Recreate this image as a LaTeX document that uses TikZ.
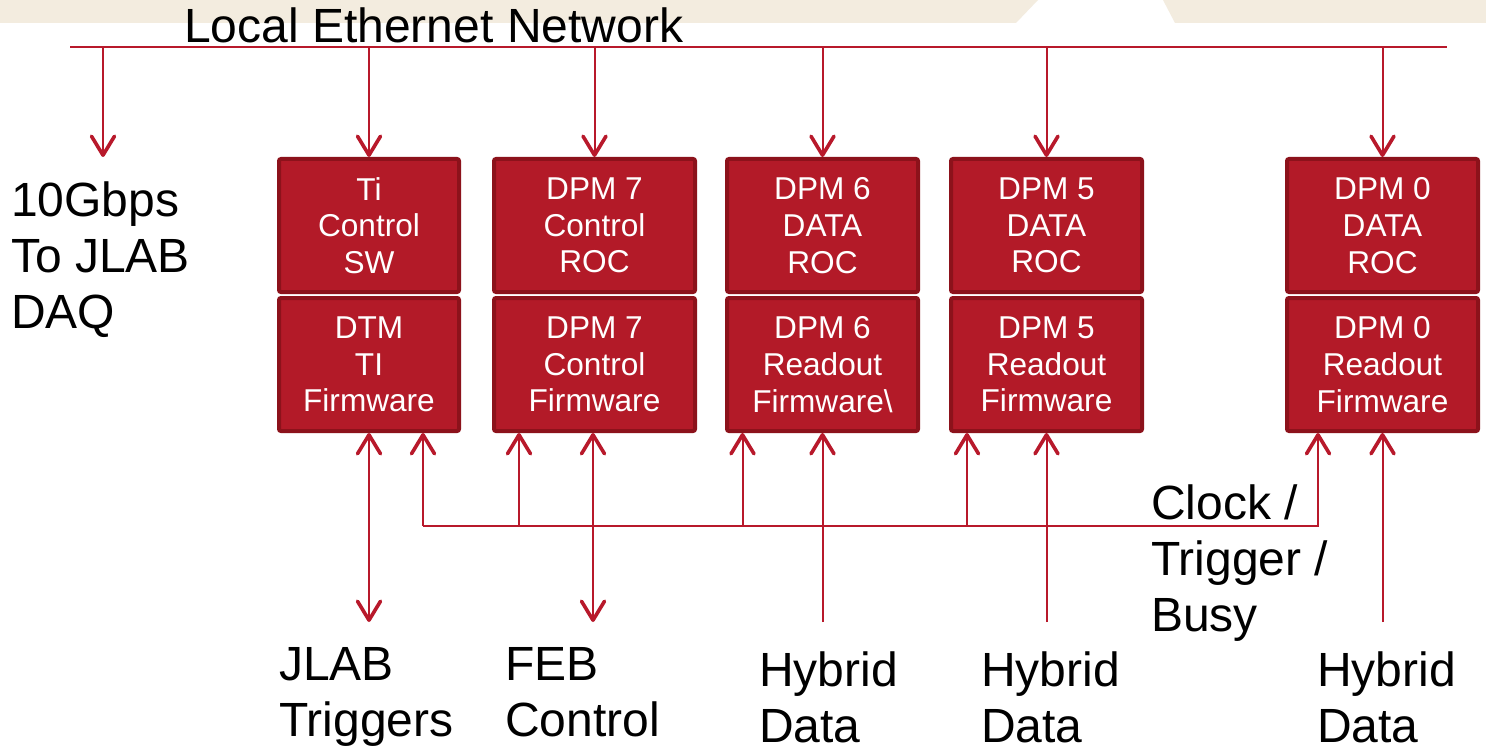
\documentclass[tikz,border=0pt]{standalone}
\usepackage{fontspec}
\setmainfont{Liberation Sans}
\usetikzlibrary{arrows.meta}
\definecolor{boxred}{HTML}{B31A28}
\definecolor{boxedge}{HTML}{8C121B}
\definecolor{linered}{HTML}{B8192B}
\definecolor{beige}{HTML}{F3ECDF}
\begin{document}
\begin{tikzpicture}[x=1pt,y=-1pt,
  blk/.style={draw=boxedge, fill=boxred, line width=4pt, rounded corners=2pt,
    text=white, align=center, inner sep=0pt, minimum height=133pt,
    font=\fontsize{31.6}{36.7}\selectfont},
  lbl/.style={align=left, anchor=base west, inner sep=0pt,
    font=\fontsize{48}{56}\selectfont},
  tipb/.tip={Straight Barb[length=19pt,width=23pt,line width=3.6pt,round]},
  wire/.style={draw=linered, line width=2pt},
  arr/.style={wire, -tipb},
  darr/.style={wire, tipb-tipb}
]
\useasboundingbox (0,0) rectangle (1486,749);
\fill[white] (0,0) rectangle (1486,749);
% top decoration band
\fill[beige] (0,0) -- (1038,0) -- (1016,23) -- (0,23) -- cycle;
\fill[beige] (1163,0) -- (1486,0) -- (1486,23) -- (1175,23) -- cycle;

% boxes
\node[blk, minimum width=180pt] (tiU) at (369,225.5) {Ti\\Control\\SW};
\node[blk, minimum width=180pt] (tiL) at (369,364.5) {DTM\\TI\\Firmware};
\node[blk, minimum width=201pt] (d7U) at (594.5,225.5) {DPM 7\\Control\\ROC};
\node[blk, minimum width=201pt] (d7L) at (594.5,364.5) {DPM 7\\Control\\Firmware};
\node[blk, minimum width=191pt] (d6U) at (822.5,225.5) {DPM 6\\DATA\\ROC};
\node[blk, minimum width=191pt] (d6L) at (822.5,364.5) {DPM 6\\Readout\\Firmware\textbackslash};
\node[blk, minimum width=191pt] (d5U) at (1046.5,225.5) {DPM 5\\DATA\\ROC};
\node[blk, minimum width=191pt] (d5L) at (1046.5,364.5) {DPM 5\\Readout\\Firmware};
\node[blk, minimum width=191pt] (d0U) at (1382.5,225.5) {DPM 0\\DATA\\ROC};
\node[blk, minimum width=191pt] (d0L) at (1382.5,364.5) {DPM 0\\Readout\\Firmware};

% labels (anchor = baseline of the last line)
\node[lbl] (eth) at (184,42.7) {Local Ethernet Network};
\node[lbl] (gbps) at (11,328) {10Gbps\\To JLAB\\DAQ};
\node[lbl] (jlab) at (279,736.7) {JLAB\\Triggers};
\node[lbl] (feb) at (505,736.7) {FEB\\Control};
\node[lbl] (hy6t) at (759,742) {Hybrid\\Data};
\node[lbl] (hy5t) at (981,742) {Hybrid\\Data};
\node[lbl] (hy0t) at (1317,742) {Hybrid\\Data};
\node[lbl] (clkt) at (1151,631.7) {Clock /\\Trigger /\\Busy};

% ethernet bus
\coordinate (ethA) at (70,47);
\coordinate (ethB) at (1447,47);
\coordinate (daq) at (103,157);
\draw[draw=linered, line width=2.5pt] (ethA) -- (ethB);
\draw[arr] (daq |- ethA) -- (daq);
\draw[arr] (tiU.north |- ethA) -- (tiU.north);
\draw[arr] (d7U.north |- ethA) -- (d7U.north);
\draw[arr] (d6U.north |- ethA) -- (d6U.north);
\draw[arr] (d5U.north |- ethA) -- (d5U.north);
\draw[arr] (d0U.north |- ethA) -- (d0U.north);

% bottom external links
\coordinate (jl) at (369,622);
\coordinate (fb) at (593,622);
\coordinate (h6) at (822.5,622);
\coordinate (h5) at (1046.5,622);
\coordinate (h0) at (1382.5,622);
\draw[darr] (jl |- tiL.south) -- (jl);
\draw[darr] (fb |- d7L.south) -- (fb);
\draw[arr] (h6) -- (h6 |- d6L.south);
\draw[arr] (h5) -- (h5 |- d5L.south);
\draw[arr] (h0) -- (h0 |- d0L.south);

% clock / trigger / busy distribution
\coordinate (cA) at (423,526);
\coordinate (cB) at (519,526);
\coordinate (cC) at (742.5,526);
\coordinate (cD) at (967,526);
\coordinate (cE) at (1318,526);
\draw[arr] (cA) -- (cE) -- (cE |- d0L.south);
\draw[arr] (cA) -- (cA |- tiL.south);
\draw[arr] (cB) -- (cB |- d7L.south);
\draw[arr] (cC) -- (cC |- d6L.south);
\draw[arr] (cD) -- (cD |- d5L.south);
\end{tikzpicture}
\end{document}
